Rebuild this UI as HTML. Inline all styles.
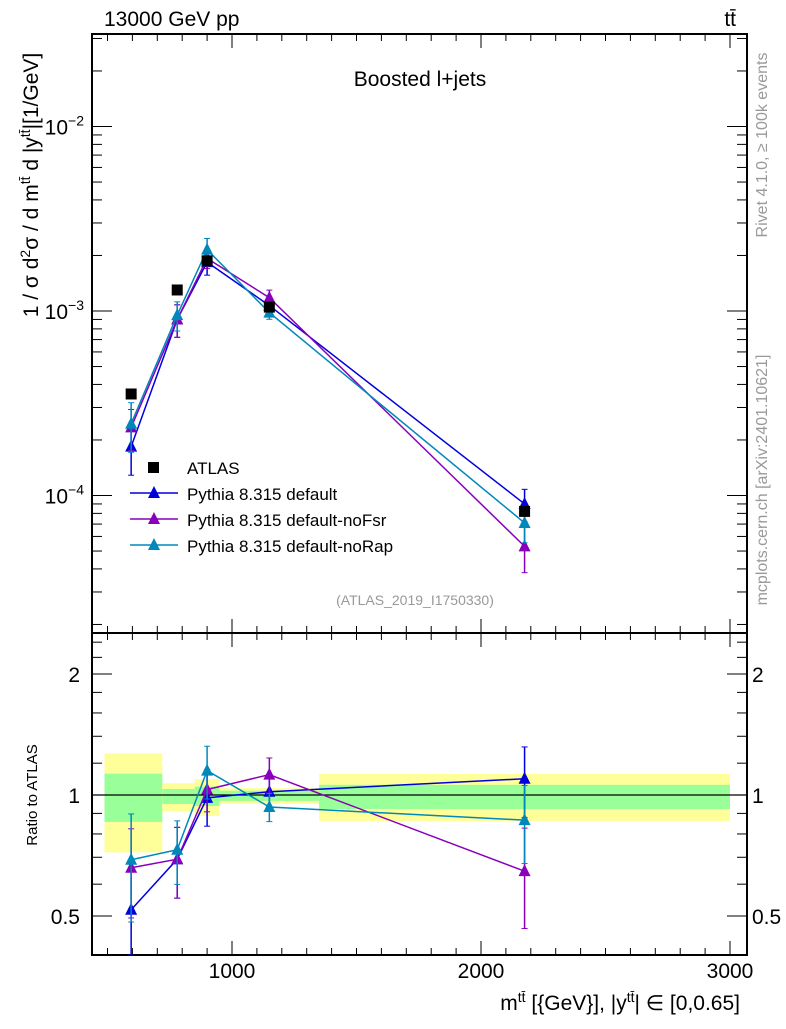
<!DOCTYPE html>
<html><head><meta charset="utf-8"><style>
body{margin:0;background:#fff}
svg{font-family:"Liberation Sans",sans-serif}
</style></head><body>
<svg id="c" width="786" height="1024" viewBox="0 0 786 1024"></svg>
<script>
const xCats=[595,780,900,1150,2175];
const atlas=[3.55e-4,1.30e-3,1.87e-3,1.05e-3,8.2e-5];
const atlasErr=[0.05,0.04,0.04,0.03,0.08];
const sBlue=[1.84e-4,9.0e-4,1.84e-3,1.07e-3,9.0e-5];
const sPurple=[2.34e-4,9.0e-4,1.93e-3,1.18e-3,5.3e-5];
const sTeal=[2.45e-4,9.5e-4,2.15e-3,9.8e-4,7.1e-5];
const relErrBlue=[0.3,0.2,0.15,0.08,0.2];
const relErrPurple=[0.25,0.2,0.12,0.1,0.28];
const relErrTeal=[0.3,0.18,0.15,0.08,0.22];
const binEdges=[488,720,850,950,1350,3000];
const bandYellowHi=[1.27,1.07,1.096,1.04,1.128];
const bandYellowLo=[0.72,0.91,0.887,0.95,0.862];
const bandGreenHi=[1.13,1.035,1.049,1.025,1.06];
const bandGreenLo=[0.857,0.95,0.939,0.967,0.923];
const xTicks=[1000,2000,3000];
const ratioTicks=[0.5,1,2];

const NS="http://www.w3.org/2000/svg",svg=document.getElementById('c');
function el(t,a,p){const e=document.createElementNS(NS,t);for(const k in a)e.setAttribute(k,a[k]);(p||svg).appendChild(e);return e;}
const L=92,R=747,T=34,MB=633,RB=955;
const X=v=>232+(v-1000)*0.249;
const Y=v=>311-(Math.log10(v)+3)*184.5;
const RY=v=>795-Math.log2(v)*121;

const gb=el('g',{});
for(let i=0;i<5;i++){
 const x0=X(binEdges[i]),x1=X(binEdges[i+1]);
 const y=el('rect',{x:x0,y:RY(bandYellowHi[i]),width:x1-x0,height:RY(bandYellowLo[i])-RY(bandYellowHi[i]),fill:'#ffff99'},gb);
 
 const g=el('rect',{x:x0,y:RY(bandGreenHi[i]),width:x1-x0,height:RY(bandGreenLo[i])-RY(bandGreenHi[i]),fill:'#99ff99'},gb);
 
}
el('line',{x1:L,x2:R,y1:RY(1),y2:RY(1),stroke:'#000','stroke-width':1.3});

const f1=el('rect',{x:L,y:T,width:R-L,height:MB-T,fill:'none',stroke:'#000','stroke-width':2});

const f2=el('rect',{x:L,y:MB,width:R-L,height:RB-MB,fill:'none',stroke:'#000','stroke-width':2});


for(let v=500;v<=3000;v+=100){
 const maj=v%1000===0,len=maj?14:7,x=X(v);
 for(const [yb,d] of [[MB,-1],[T,1],[RB,-1],[MB,1]])el('line',{x1:x,x2:x,y1:yb,y2:yb+d*len,stroke:'#000','stroke-width':1});
}
xTicks.forEach(v=>{const t=el('text',{x:X(v),y:978,'font-size':21,'text-anchor':'middle'});t.textContent=v;
 });
for(let e=-5;e<=-2;e++)for(let m=1;m<10;m++){
 const v=m*Math.pow(10,e),y=Y(v);if(y<T||y>MB)continue;
 const len=m===1?20:10;
 el('line',{x1:L,x2:L+len,y1:y,y2:y,stroke:'#000'});el('line',{x1:R,x2:R-len,y1:y,y2:y,stroke:'#000'});
}
[-2,-3,-4].forEach(e=>{const t=el('text',{x:84,y:Y(Math.pow(10,e))+8,'font-size':21,'text-anchor':'end'});
 t.innerHTML='10<tspan dy="-9" font-size="14">−'+(-e)+'</tspan>';
 });
[0.4,0.5,0.6,0.7,0.8,0.9,1,1.2,1.4,1.6,1.8,2,2.2,2.4].forEach(v=>{
 const y=RY(v);if(y<MB||y>RB)return;const len=[0.5,1,2].includes(v)?20:10;
 el('line',{x1:L,x2:L+len,y1:y,y2:y,stroke:'#000'});el('line',{x1:R,x2:R-len,y1:y,y2:y,stroke:'#000'});});
ratioTicks.forEach(v=>{
 const a=el('text',{x:80,y:RY(v)+8,'font-size':21,'text-anchor':'end'});a.textContent=v;
 
 const b=el('text',{x:752,y:RY(v)+8,'font-size':21});b.textContent=v;
 });

function tri(g,x,y,c){el('path',{d:`M${x-6},${y+5}L${x+6},${y+5}L${x},${y-7}Z`,fill:c},g);}
function series(vals,errs,c,name){
 const g=el('g',{});
 const gr=el('g',{});
 el('polyline',{points:vals.map((v,i)=>X(xCats[i])+','+Y(v)).join(' '),fill:'none',stroke:c,'stroke-width':1.5},g);
 el('polyline',{points:vals.map((v,i)=>X(xCats[i])+','+RY(v/atlas[i])).join(' '),fill:'none',stroke:c,'stroke-width':1.5},gr);
 vals.forEach((v,i)=>{const x=X(xCats[i]);
  const y1=Y(v*(1+errs[i])),y2=Y(v*(1-errs[i]));
  el('line',{x1:x,x2:x,y1:y1,y2:y2,stroke:c,'stroke-width':1.5},g);
  el('line',{x1:x-3,x2:x+3,y1:y1,y2:y1,stroke:c},g);el('line',{x1:x-3,x2:x+3,y1:y2,y2:y2,stroke:c},g);
  tri(g,x,Y(v),c);
  const r=v/atlas[i],r1=Math.max(RY(r*(1+errs[i])),MB),r2=Math.min(RY(r*(1-errs[i])),RB);
  el('line',{x1:x,x2:x,y1:r1,y2:r2,stroke:c,'stroke-width':1.5},gr);
  el('line',{x1:x-3,x2:x+3,y1:r1,y2:r1,stroke:c},gr);el('line',{x1:x-3,x2:x+3,y1:r2,y2:r2,stroke:c},gr);
  tri(gr,x,RY(r),c);});
}
series(sBlue,relErrBlue,'#0000dd','series-pythia-default');
series(sPurple,relErrPurple,'#8800bb','series-pythia-nofsr');
series(sTeal,relErrTeal,'#0088bb','series-pythia-norap');
const ga=el('g',{});
atlas.forEach((v,i)=>{const x=X(xCats[i]);el('rect',{x:x-5.5,y:Y(v)-5.5,width:11,height:11,fill:'#000'},ga);});

const lg=el('g',{});
el('rect',{x:148,y:462,width:11,height:11,fill:'#000'},lg);
const lt=[['ATLAS',null,467],['Pythia 8.315 default','#0000dd',493],['Pythia 8.315 default-noFsr','#8800bb',519],['Pythia 8.315 default-noRap','#0088bb',545]];
lt.forEach(([s,c,y])=>{
 if(c){el('line',{x1:130,x2:178,y1:y,y2:y,stroke:c,'stroke-width':1.5},lg);tri(lg,154,y,c);}
 const t=el('text',{x:187,y:y+7,'font-size':17},lg);t.textContent=s;
 });
</script>
<svg width="786" height="1024" style="position:absolute;left:0;top:0" font-family="Liberation Sans, sans-serif">
<text x="104" y="26" font-size="21">13000 GeV pp</text>
<text x="736" y="26" font-size="21" text-anchor="end">tt̄</text>
<text x="420" y="86" font-size="21" text-anchor="middle">Boosted l+jets</text>
<text x="415" y="605" font-size="14" fill="#999" text-anchor="middle">(ATLAS_2019_I1750330)</text>
<text transform="translate(767,145) rotate(-90)" font-size="16" fill="#999" text-anchor="middle">Rivet 4.1.0, ≥ 100k events</text>
<text transform="translate(767,480) rotate(-90)" font-size="16" fill="#999" text-anchor="middle">mcplots.cern.ch [arXiv:2401.10621]</text>
<text transform="translate(38,185) rotate(-90)" font-size="21" text-anchor="middle">1 / σ d<tspan dy="-8" font-size="14">2</tspan><tspan dy="8">σ / d m</tspan><tspan dy="-8" font-size="14">tt̄</tspan><tspan dy="8"> d |y</tspan><tspan dy="-8" font-size="14">tt̄</tspan><tspan dy="8">|[1/GeV]</tspan></text>
<text transform="translate(37,795) rotate(-90)" font-size="15" text-anchor="middle">Ratio to ATLAS</text>
<text x="740" y="1010" font-size="21" text-anchor="end">m<tspan dy="-8" font-size="14">tt̄</tspan><tspan dy="8"> [{GeV}], |y</tspan><tspan dy="-8" font-size="14">tt̄</tspan><tspan dy="8">| ∈ [0,0.65]</tspan></text>
</svg>
</body></html>
